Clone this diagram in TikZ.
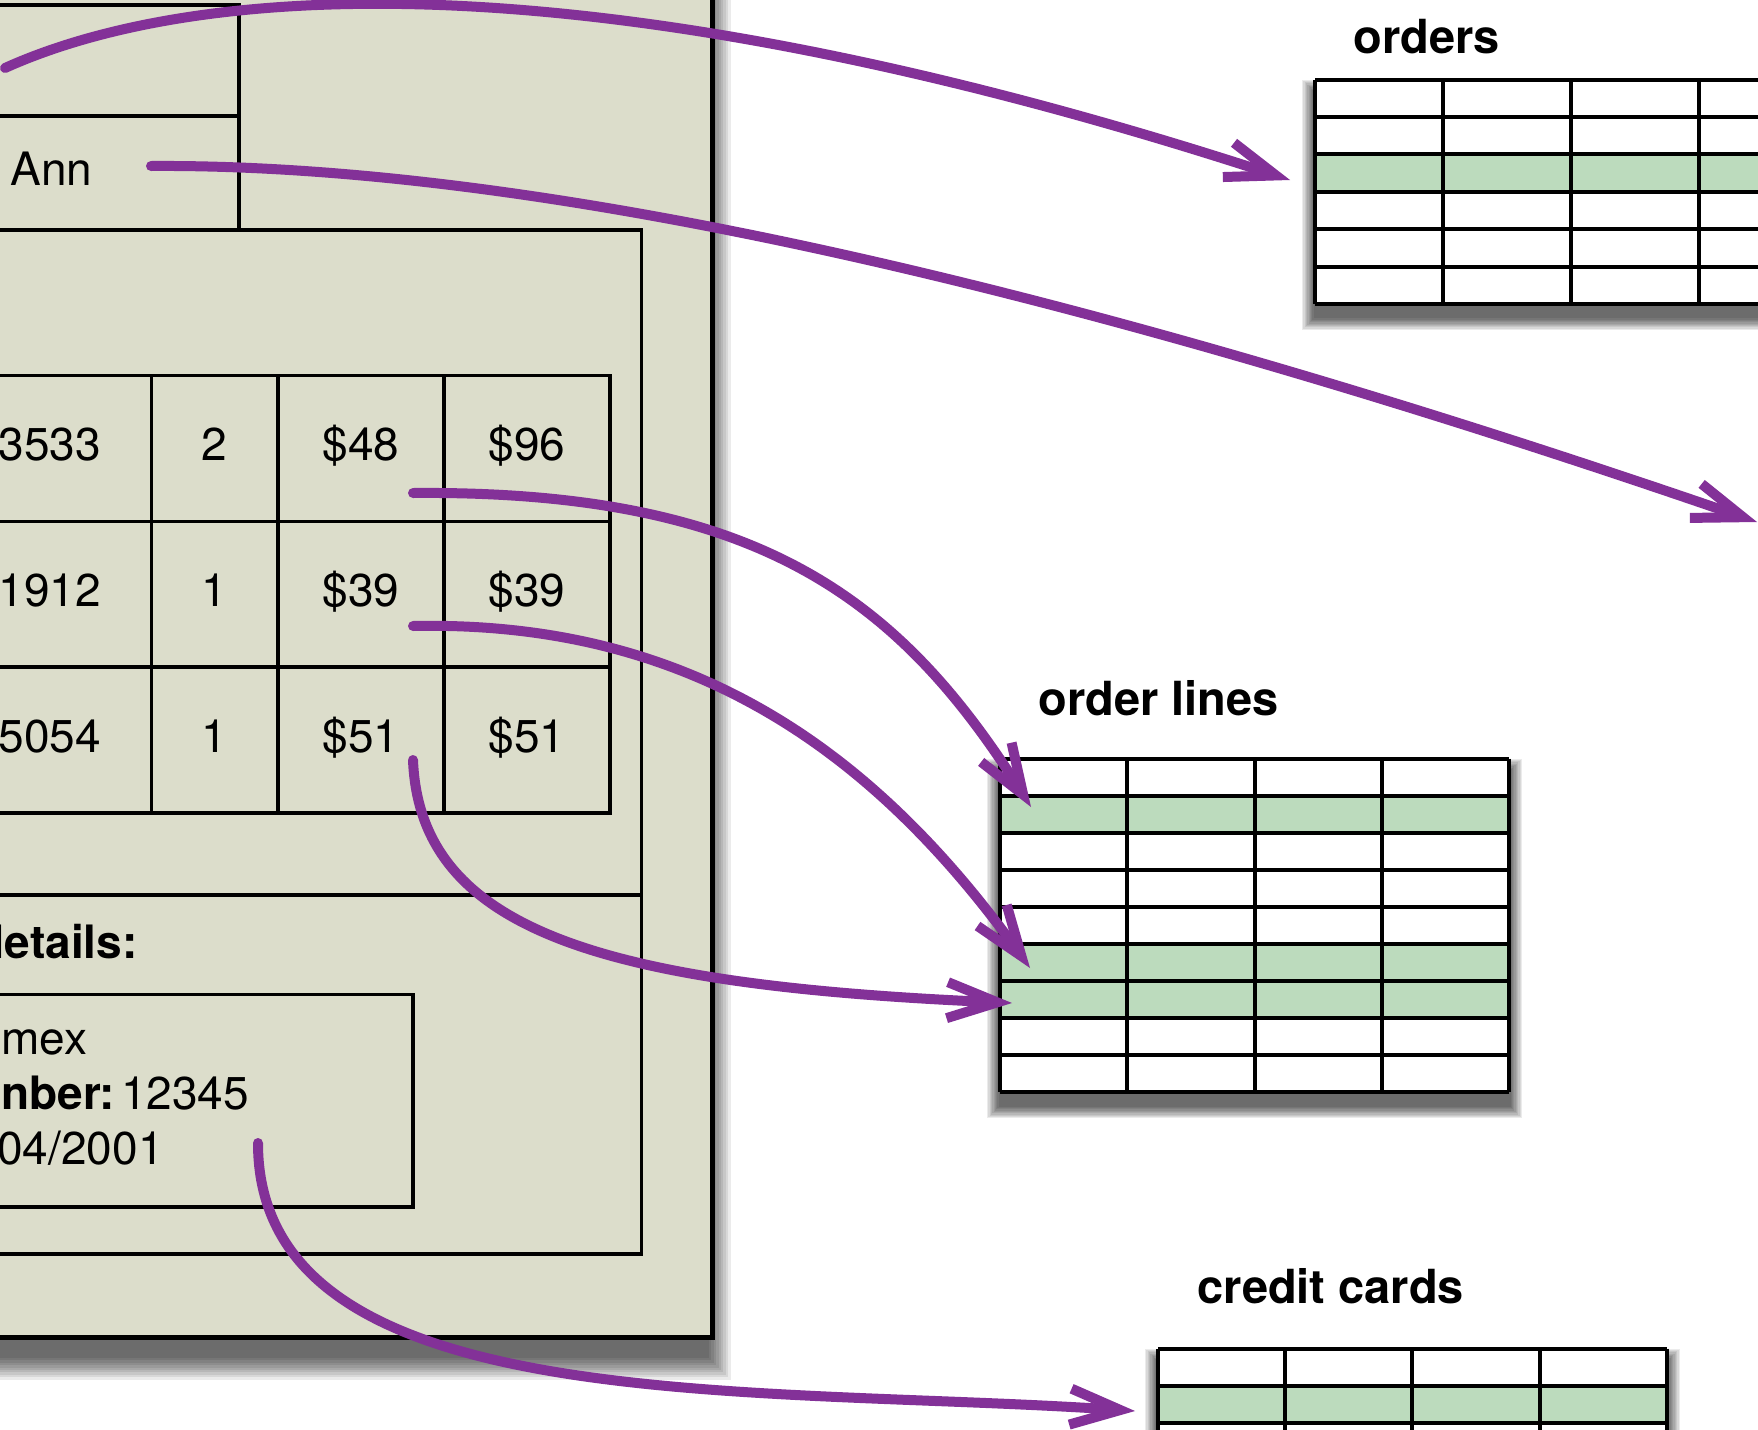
\documentclass[tikz,border=0pt]{standalone}
\usepackage{fontspec}
\setmainfont{TeX Gyre Heros}
\usetikzlibrary{arrows.meta}
\definecolor{panel}{RGB}{220,221,203}
\definecolor{rowgreen}{RGB}{188,219,189}
\definecolor{purp}{RGB}{131,49,152}
\newcommand\softshadow[7]{% x0 y0 x1 y1 dx dy r
  \foreach \k in {0,...,9}{
    \fill[black,opacity=0.08] ({#1-#7+\k*#7/10+#5},{#2-#7+\k*#7/10+#6}) rectangle ({#3+#7-\k*#7/10+#5},{#4+#7-\k*#7/10+#6});
  }}
\begin{document}
\begin{tikzpicture}[x=0.5pt,y=-0.5pt,
  txt/.style={inner sep=0pt, font=\fontsize{23}{27}\selectfont},
  lbl/.style={inner sep=0pt, font=\fontsize{23.5}{28}\selectfont\bfseries},
  pline/.style={line width=1.9pt},
  grid/.style={line width=2pt},
  conn/.style={draw=purp, line width=5pt, line cap=round,
    -{Straight Barb[length=25pt,width=18pt,line cap=butt,line join=miter]}}]
\useasboundingbox (0,0) rectangle (1758,1430);
\fill[white] (0,0) rectangle (1758,1430);
\begin{scope}
\clip (0,0) rectangle (1758,1430);
% ---------- main panel ----------
\softshadow{-30}{-30}{712.5}{1337.5}{-6}{18}{24}
\fill[panel] (-30,-30) rectangle (712.5,1337.5);
\draw[line width=2.4pt] (-30,-30) rectangle (712.5,1337.5);
\draw[pline] (-30,5) -- (239,5) -- (239,230);
\draw[pline] (-30,116) -- (239,116);
\draw[pline] (-30,230) rectangle (641.5,1254);
\draw[pline] (-30,895) -- (641.5,895);
\draw[pline] (-30,994.5) rectangle (413,1207);
% items table
\draw[pline] (-30,375.5) rectangle (610,813);
\foreach \yy in {521.5,667} \draw[pline] (-30,\yy) -- (610,\yy);
\foreach \xx in {151.5,278,444} \draw[pline] (\xx,375.5) -- (\xx,813);
% texts in panel
\node[txt, anchor=base west] (ann) at (10,185) {Ann};
\node[txt, anchor=base] (q1) at (50,460.5) {3533};
\node[txt, anchor=base] (q2) at (214.5,460.5) {2};
\node[txt, anchor=base] (q3) at (361,460.5) {\$48};
\node[txt, anchor=base] (q4) at (527,460.5) {\$96};
\node[txt, anchor=base] (w1) at (50,606.5) {1912};
\node[txt, anchor=base] (w2) at (214.5,606.5) {1};
\node[txt, anchor=base] (w3) at (361,606.5) {\$39};
\node[txt, anchor=base] (w4) at (527,606.5) {\$39};
\node[txt, anchor=base] (e1) at (50,752.5) {5054};
\node[txt, anchor=base] (e2) at (214.5,752.5) {1};
\node[txt, anchor=base] (e3) at (361,752.5) {\$51};
\node[txt, anchor=base] (e4) at (527,752.5) {\$51};
\node[txt, anchor=base east] (det) at (138,958) {\textbf{details:}};
\node[txt, anchor=base west] (amex) at (1,1054.5) {mex};
\node[txt, anchor=base west] (num) at (1,1109) {\textbf{nber:}\hspace{3pt}12345};
\node[txt, anchor=base east] (exp) at (164,1164) {04/2001};
% ---------- orders table ----------
\node[lbl, anchor=base west] (ordlbl) at (1353,53) {orders};
\softshadow{1315}{79.5}{1790}{304}{0}{13}{13}
\fill[white] (1315,79.5) rectangle (1790,304);
\fill[rowgreen] (1315,154.4) rectangle (1790,191.9);
\foreach \i in {0,...,6} \draw[grid] (1315,79.5+37.42*\i) -- (1790,79.5+37.42*\i);
\foreach \j in {0,...,4} \draw[grid] (1315+128*\j,79.5) -- (1315+128*\j,304);
% ---------- order lines table ----------
\node[lbl, anchor=base west] (ollbl) at (1038,715) {order lines};
\softshadow{1000}{758.5}{1509.2}{1092.4}{0}{13}{13}
\fill[white] (1000,758.5) rectangle (1509.2,1092.4);
\foreach \r in {1,5,6} \fill[rowgreen] (1000,758.5+37.1*\r) rectangle (1509.2,758.5+37.1*\r+37.1);
\foreach \i in {0,...,9} \draw[grid] (1000,758.5+37.1*\i) -- (1509.2,758.5+37.1*\i);
\foreach \j in {0,...,4} \draw[grid] (1000+127.3*\j,758.5) -- (1000+127.3*\j,1092.4);
% ---------- credit cards table ----------
\node[lbl, anchor=base west] (cclbl) at (1197,1303) {credit cards};
\softshadow{1158}{1348.5}{1666.8}{1572.3}{0}{13}{13}
\fill[white] (1158,1348.5) rectangle (1666.8,1572.3);
\fill[rowgreen] (1158,1385.8) rectangle (1666.8,1423.1);
\foreach \i in {0,...,6} \draw[grid] (1158,1348.5+37.3*\i) -- (1666.8,1348.5+37.3*\i);
\foreach \j in {0,...,4} \draw[grid] (1158+127.2*\j,1348.5) -- (1158+127.2*\j,1572.3);
% ---------- connectors ----------
\coordinate (s1) at (5,68);     \coordinate (t1) at (1290,180);
\coordinate (s2) at (151,166);  \coordinate (t2) at (1757,522);
\coordinate (s3) at (413,493);  \coordinate (t3) at (1031,807);
\coordinate (s4) at (413,626);  \coordinate (t4) at (1030,968);
\coordinate (s5) at (413,760);  \coordinate (t5) at (1012,1003);
\coordinate (s6) at (258,1143); \coordinate (t6) at (1135,1411);
\draw[conn] (s1) .. controls (200,-20) and (600,-45) .. (t1);
\draw[conn] (s2) .. controls (600,163) and (1200,330) .. (t2);
\draw[conn] (s3) .. controls (760,490) and (900,600) .. (t3);
\draw[conn] (s4) .. controls (700,620) and (880,760) .. (t4);
\draw[conn] (s5) .. controls (420,930) and (600,985) .. (t5);
\draw[conn] (s6) .. controls (258,1420) and (750,1385) .. (t6);
\end{scope}
\end{tikzpicture}
\end{document}
